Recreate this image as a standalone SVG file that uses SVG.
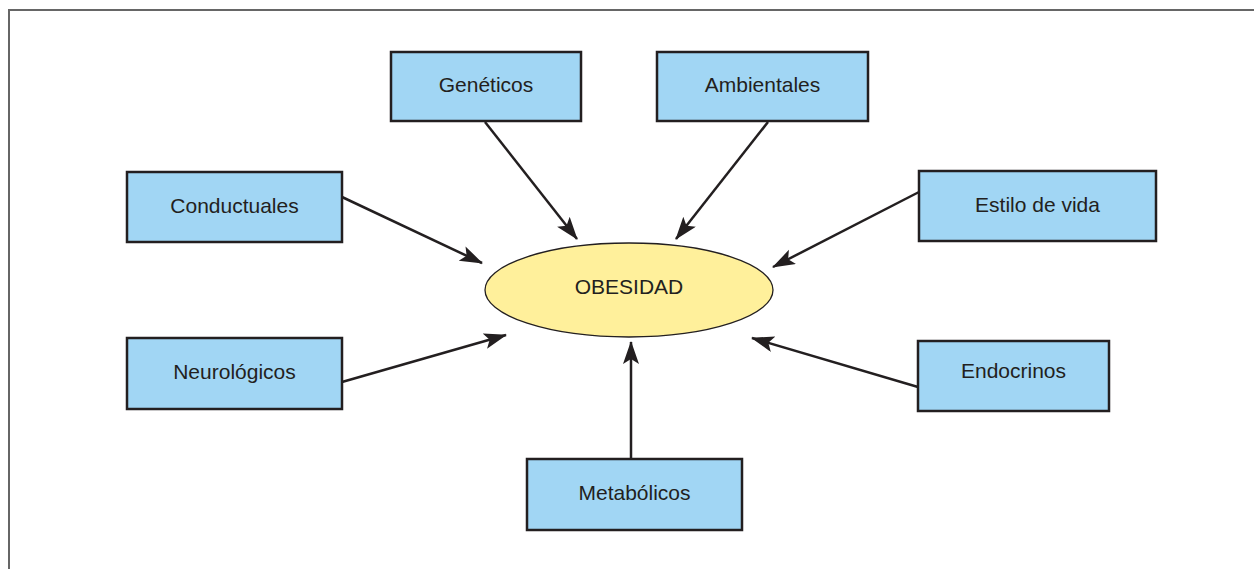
<svg xmlns="http://www.w3.org/2000/svg" width="1254" height="569" viewBox="0 0 1254 569">
<style>
.box{fill:#a1d6f4;stroke:#231f20;stroke-width:2.5}
.lbl{font-family:"Liberation Sans",Arial,sans-serif;font-size:21px;fill:#231f20;text-anchor:middle}
.con{stroke:#231f20;stroke-width:2.5;fill:none;marker-end:url(#ah)}
</style>
<defs>
<marker id="ah" markerUnits="userSpaceOnUse" markerWidth="24" markerHeight="18" refX="22" refY="8" orient="auto">
<path d="M0,0 L23,8 L0,16 L5,8 z" fill="#231f20"/>
</marker>
</defs>
<rect width="1254" height="569" fill="#fff"/>
<path d="M9,569 V10 H1254" fill="none" stroke="#666" stroke-width="2"/>
<g id="connectors">
<line class="con" x1="485" y1="122" x2="577" y2="239"/>
<line class="con" x1="768" y1="122" x2="676" y2="239"/>
<line class="con" x1="342" y1="197" x2="482" y2="263"/>
<line class="con" x1="919" y1="192" x2="773" y2="267"/>
<line class="con" x1="342" y1="382" x2="506" y2="335"/>
<line class="con" x1="918" y1="387" x2="752" y2="338"/>
<line class="con" x1="631" y1="459" x2="631" y2="342"/>
</g>
<g id="obesidad">
<ellipse cx="629" cy="290" rx="144" ry="47" fill="#fff09b" stroke="#231f20" stroke-width="1.3"/>
<text class="lbl" x="629" y="294">OBESIDAD</text>
</g>
<g id="geneticos">
<rect class="box" x="391" y="52" width="190" height="69"/>
<text class="lbl" x="486" y="92">Genéticos</text>
</g>
<g id="ambientales">
<rect class="box" x="657" y="52" width="211" height="69"/>
<text class="lbl" x="762.5" y="92">Ambientales</text>
</g>
<g id="conductuales">
<rect class="box" x="127" y="172" width="215" height="70"/>
<text class="lbl" x="234.5" y="213">Conductuales</text>
</g>
<g id="estilo">
<rect class="box" x="919" y="171" width="237" height="70"/>
<text class="lbl" x="1037.5" y="212">Estilo de vida</text>
</g>
<g id="neurologicos">
<rect class="box" x="127" y="338" width="215" height="71"/>
<text class="lbl" x="234.5" y="379">Neurológicos</text>
</g>
<g id="endocrinos">
<rect class="box" x="918" y="341" width="191" height="70"/>
<text class="lbl" x="1013.5" y="378">Endocrinos</text>
</g>
<g id="metabolicos">
<rect class="box" x="527" y="459" width="215" height="71"/>
<text class="lbl" x="634.5" y="500">Metabólicos</text>
</g>
</svg>
